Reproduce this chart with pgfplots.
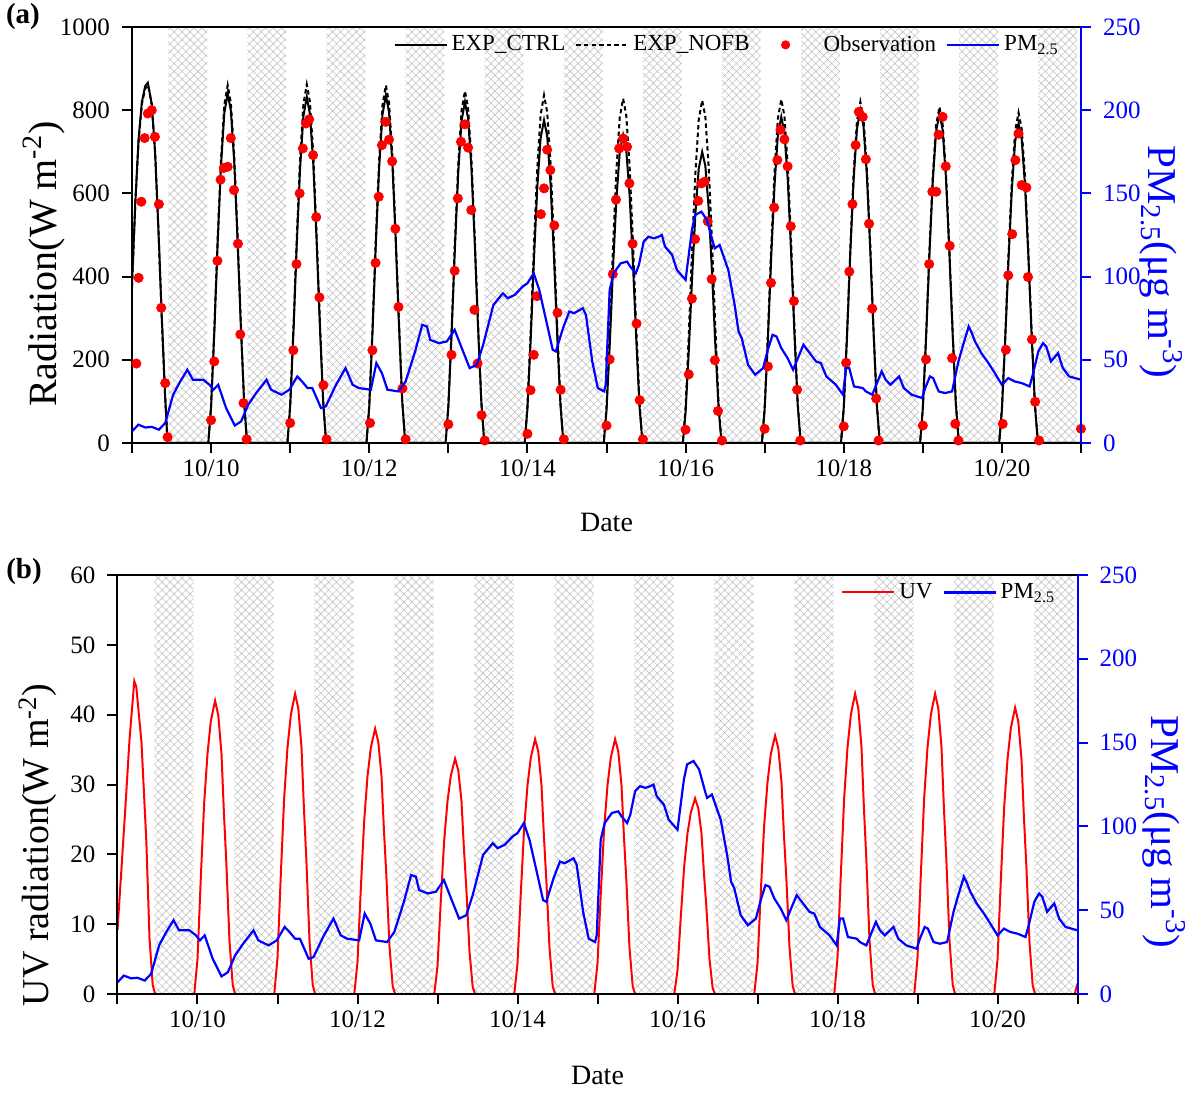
\documentclass[border=0pt]{standalone}
\usepackage{pgfplots}
\pgfplotsset{compat=1.18}
\usepackage{pgfplotstable}
\usepackage{fontspec}
\setmainfont{Liberation Serif}
\usetikzlibrary{patterns.meta}

\pgfplotstableread{
x y
9.00 7
9.08 11
9.17 9.3
9.25 9.7
9.34 8
9.42 12
9.52 29
9.61 37
9.70 44
9.77 38
9.90 38
9.98 35
10.03 32
10.09 35
10.19 21
10.30 10.5
10.38 13
10.47 23
10.57 30
10.70 38
10.76 32
10.89 29
10.99 32
11.09 40
11.15 37
11.22 33
11.28 33
11.39 21
11.45 22
11.58 35
11.70 45
11.79 35
11.87 33
12.02 32
12.09 48
12.16 42
12.23 32
12.37 31
12.46 37
12.58 55
12.67 71
12.73 70
12.77 62
12.88 60
12.98 61
13.08 68
13.17 57
13.27 45
13.36 47
13.44 59
13.57 83
13.69 90
13.75 87
13.84 89
13.94 94
14.00 96
14.08 102
14.15 92
14.24 73
14.32 56
14.36 55
14.45 69
14.53 79
14.59 78
14.70 81
14.74 77
14.82 49
14.89 33
14.97 31
14.99 35
15.04 92
15.09 102
15.18 108
15.26 109
15.30 106
15.37 102
15.41 107
15.47 121
15.53 124
15.60 123
15.66 124
15.70 125
15.74 118
15.83 113
15.89 104
16.00 98
16.08 128
16.12 137
16.20 139
16.27 134
16.35 120
16.37 117
16.43 119
16.54 104
16.62 83
16.67 67
16.71 63
16.79 47
16.88 41
16.98 45
17.04 56
17.10 65
17.15 64
17.21 57
17.29 51
17.36 44
17.42 51
17.49 59
17.57 54
17.65 49
17.71 48
17.78 40
17.90 35
17.99 29
18.03 45
18.07 45
18.13 34
18.24 33
18.28 31
18.36 29
18.48 43
18.53 38
18.59 35
18.70 40
18.76 33
18.86 29
18.99 27
19.03 33
19.09 40
19.13 39
19.20 31
19.28 30
19.37 31
19.45 49
19.51 59
19.58 70
19.62 66
19.66 61
19.74 54
19.83 48
19.91 42
20.00 35
20.08 39
20.16 37
20.25 36
20.35 34
20.39 41
20.46 55
20.52 60
20.56 58
20.62 49
20.71 54
20.77 45
20.85 40
21.00 38
}\pmtab

\pgfplotstableread{
x y
9.000 380
9.042 580
9.083 730
9.125 820
9.167 858
9.200 866
9.250 815
9.292 700
9.333 520
9.375 310
9.417 120
9.450 0
9.965 0
10.000 88
10.042 272
10.083 480
10.125 664
10.167 793
10.210 840
10.250 799
10.292 677
10.333 496
10.375 288
10.417 101
10.455 0
10.965 0
11.000 87
11.042 270
11.083 475
11.125 658
11.167 785
11.210 832
11.250 791
11.292 671
11.333 492
11.375 285
11.417 100
11.455 0
11.965 0
12.000 88
12.042 271
12.083 477
12.125 661
12.167 789
12.210 836
12.250 795
12.292 674
12.333 494
12.375 287
12.417 100
12.455 0
12.965 0
13.000 86
13.042 266
13.083 468
13.125 649
13.167 774
13.210 820
13.250 780
13.292 661
13.333 485
13.375 281
13.417 98
13.455 0
13.965 0
14.000 81
14.042 251
14.083 443
14.125 614
14.167 733
14.210 776
14.250 738
14.292 625
14.333 459
14.375 266
14.417 93
14.455 0
14.965 0
15.000 78
15.042 240
15.083 423
15.125 585
15.167 699
15.210 740
15.250 704
15.292 596
15.333 437
15.375 254
15.417 89
15.455 0
15.965 0
16.000 74
16.042 227
16.083 400
16.125 554
16.167 661
16.210 700
16.250 666
16.292 564
16.333 414
16.375 240
16.417 84
16.455 0
16.965 0
17.000 82
17.042 254
17.083 448
17.125 620
17.167 740
17.210 784
17.250 746
17.292 632
17.333 463
17.375 269
17.417 94
17.455 0
17.965 0
18.000 84
18.042 259
18.083 457
18.125 633
18.167 755
18.210 800
18.250 761
18.292 645
18.333 473
18.375 274
18.417 96
18.455 0
18.965 0
19.000 83
19.042 257
19.083 452
19.125 626
19.167 748
19.210 792
19.250 753
19.292 638
19.333 468
19.375 272
19.417 95
19.455 0
19.965 0
20.000 81
20.042 249
20.083 439
20.125 607
20.167 725
20.210 768
20.250 730
20.292 619
20.333 454
20.375 263
20.417 92
20.455 0
21.000 0
}\ctrltab

\pgfplotstableread{
x y
9.000 375
9.042 575
9.083 725
9.125 815
9.167 852
9.205 860
9.250 812
9.292 697
9.333 517
9.375 306
9.417 118
9.450 0
9.965 0
10.000 90
10.042 279
10.083 491
10.125 680
10.167 812
10.210 860
10.250 818
10.292 693
10.333 508
10.375 295
10.417 103
10.455 0
10.965 0
11.000 91
11.042 279
11.083 492
11.125 682
11.167 814
11.210 862
11.250 820
11.292 695
11.333 509
11.375 296
11.417 103
11.455 0
11.965 0
12.000 90
12.042 279
12.083 491
12.125 680
12.167 812
12.210 860
12.250 818
12.292 693
12.333 508
12.375 295
12.417 103
12.455 0
12.965 0
13.000 89
13.042 274
13.083 483
13.125 669
13.167 799
13.210 846
13.250 805
13.292 682
13.333 500
13.375 290
13.417 102
13.455 0
13.965 0
14.000 88
14.042 271
14.083 477
14.125 661
14.167 789
14.210 836
14.250 795
14.292 674
14.333 494
14.375 287
14.417 100
14.455 0
14.965 0
15.000 87
15.042 268
15.083 473
15.125 655
15.167 782
15.210 828
15.250 787
15.292 667
15.333 489
15.375 284
15.417 99
15.455 0
15.965 0
16.000 87
16.042 267
16.083 471
16.125 652
16.167 778
16.210 824
16.250 784
16.292 664
16.333 487
16.375 283
16.417 99
16.455 0
16.965 0
17.000 87
17.042 268
17.083 472
17.125 653
17.167 780
17.210 826
17.250 786
17.292 666
17.333 488
17.375 283
17.417 99
17.455 0
17.965 0
18.000 86
18.042 266
18.083 468
18.125 649
18.167 774
18.210 820
18.250 780
18.292 661
18.333 485
18.375 281
18.417 98
18.455 0
18.965 0
19.000 85
19.042 262
19.083 461
19.125 639
19.167 763
19.210 808
19.250 768
19.292 651
19.333 478
19.375 277
19.417 97
19.455 0
19.965 0
20.000 83
20.042 257
20.083 453
20.125 628
20.167 750
20.210 794
20.250 755
20.292 640
20.333 469
20.375 272
20.417 95
20.455 0
21.000 0
}\nofbtab

\pgfplotstableread{
x y
9.055 191
9.084 397
9.118 580
9.160 733
9.200 792
9.250 800
9.290 736
9.340 574
9.370 325
9.420 144
9.450 14
10.000 55
10.040 196
10.080 438
10.120 633
10.160 661
10.210 664
10.250 733
10.290 608
10.340 479
10.370 261
10.410 96
10.450 9
11.000 48
11.040 223
11.080 430
11.120 600
11.160 708
11.200 768
11.240 778
11.290 692
11.330 543
11.370 350
11.420 139
11.460 9
12.010 48
12.040 223
12.080 433
12.120 592
12.160 716
12.210 772
12.250 729
12.290 677
12.330 515
12.370 327
12.420 131
12.460 9
13.000 45
13.040 212
13.080 414
13.120 588
13.160 724
13.210 766
13.250 710
13.290 560
13.330 320
13.370 191
13.420 67
13.460 6
14.000 22
14.040 127
14.080 212
14.120 353
14.170 550
14.210 612
14.250 705
14.290 656
14.340 523
14.380 313
14.420 128
14.460 9
15.000 42
15.040 201
15.080 406
15.120 585
15.160 708
15.210 732
15.260 712
15.290 624
15.330 479
15.380 287
15.420 103
15.460 9
16.000 32
16.040 165
16.080 347
16.120 490
16.160 582
16.200 624
16.240 628
16.280 533
16.330 394
16.370 199
16.410 77
16.460 6
17.000 34
17.040 184
17.080 385
17.120 566
17.160 680
17.200 753
17.250 730
17.290 665
17.330 521
17.370 341
17.410 128
17.450 6
18.000 40
18.030 193
18.070 412
18.110 574
18.150 716
18.190 796
18.240 784
18.280 682
18.320 527
18.360 323
18.410 107
18.440 6
19.000 42
19.040 201
19.080 430
19.120 604
19.170 604
19.200 741
19.250 784
19.290 665
19.340 474
19.370 204
19.410 46
19.450 6
20.010 46
20.050 224
20.080 403
20.130 502
20.170 680
20.210 744
20.250 620
20.310 614
20.330 399
20.380 249
20.420 99
20.470 6
21.000 34
}\obstab

\pgfplotstableread{
x y
9.000 9.2
9.050 18
9.100 27
9.150 36.4
9.210 44.8
9.235 44
9.300 36
9.330 29
9.360 22
9.400 8
9.440 1.3
9.470 0
9.960 0
10.000 5.0
10.042 16.8
10.083 27.3
10.125 34.4
10.167 39.1
10.220 42
10.260 39.9
10.300 34.4
10.330 26.0
10.360 18.9
10.400 7.6
10.440 1.3
10.470 0
10.960 0
11.000 5.2
11.042 17.2
11.083 28.0
11.125 35.3
11.167 40.0
11.220 43
11.260 40.9
11.300 35.3
11.330 26.7
11.360 19.4
11.400 7.7
11.440 1.3
11.470 0
11.960 0
12.000 4.6
12.042 15.2
12.083 24.7
12.125 31.2
12.167 35.3
12.220 38
12.260 36.1
12.300 31.2
12.330 23.6
12.360 17.1
12.400 6.8
12.440 1.1
12.470 0
12.960 0
13.000 4.0
13.042 13.5
13.083 21.9
13.125 27.6
13.167 31.3
13.220 33.7
13.260 32.0
13.300 27.6
13.330 20.9
13.360 15.2
13.400 6.1
13.440 1.0
13.470 0
13.960 0
14.000 4.4
14.042 14.6
14.083 23.7
14.125 29.9
14.167 33.9
14.220 36.5
14.260 34.7
14.300 29.9
14.330 22.6
14.360 16.4
14.400 6.6
14.440 1.1
14.470 0
14.960 0
15.000 4.4
15.042 14.6
15.083 23.7
15.125 29.9
15.167 33.9
15.220 36.5
15.260 34.7
15.300 29.9
15.330 22.6
15.360 16.4
15.400 6.6
15.440 1.1
15.470 0
15.960 0
16.000 3.4
16.042 11.2
16.083 18.2
16.125 23.0
16.167 26.0
16.220 28
16.260 26.6
16.300 23.0
16.330 17.4
16.360 12.6
16.400 5.0
16.440 0.8
16.470 0
16.960 0
17.000 4.4
17.042 14.8
17.083 24.1
17.125 30.3
17.167 34.4
17.220 37
17.260 35.2
17.300 30.3
17.330 22.9
17.360 16.7
17.400 6.7
17.440 1.1
17.470 0
17.960 0
18.000 5.2
18.042 17.2
18.083 28.0
18.125 35.3
18.167 40.0
18.220 43
18.260 40.9
18.300 35.3
18.330 26.7
18.360 19.4
18.400 7.7
18.440 1.3
18.470 0
18.960 0
19.000 5.2
19.042 17.2
19.083 28.0
19.125 35.3
19.167 40.0
19.220 43
19.260 40.9
19.300 35.3
19.330 26.7
19.360 19.4
19.400 7.7
19.440 1.3
19.470 0
19.960 0
20.000 4.9
20.042 16.4
20.083 26.7
20.125 33.6
20.167 38.1
20.220 41
20.260 39.0
20.300 33.6
20.330 25.4
20.360 18.5
20.400 7.4
20.440 1.2
20.470 0
20.965 0
21.000 1.5
}\uvtab

\pgfplotsset{
  base/.style={
    scale only axis, xmin=9, xmax=21,
    tick align=outside, major tick length=5pt,
    axis line style={line width=1pt},
    every tick/.style={line width=1pt},
    tick label style={font=\fontsize{12.5}{14}\selectfont},
    /pgf/number format/assume math mode=true,
    /pgf/number format/1000 sep={},
  },
  lefty/.style={yticklabel style={xshift=-2.5pt}},
  righty/.style={yticklabel style={xshift=2.5pt}},
  hatch/.style={draw=none, pattern={Hatch[angle=45,distance=2.8pt,line width=0.3pt]},
    pattern color=black!24, forget plot},
  legend image code/.code={\draw[mark repeat=2,mark phase=2,#1] plot coordinates {(0pt,0pt) (13pt,0pt) (26pt,0pt)};},
}

\begin{document}
\begin{tikzpicture}
\useasboundingbox (0,0) rectangle (600pt,546.5pt);
\node[font=\bfseries\fontsize{14.5}{16}\selectfont] at (11.5pt,538pt) {(a)};
\node[font=\bfseries\fontsize{14.5}{16}\selectfont] at (12pt,260.5pt) {(b)};

% ---------- panel (a) left
\begin{axis}[base, lefty, at={(66pt,325pt)}, anchor=south west, width=474.5pt, height=208pt,
  ymin=0, ymax=1000, ytick={0,200,...,1000},
  xtick={9,...,21}, xticklabels={{},10/10,{},10/12,{},10/14,{},10/16,{},10/18,{},10/20,{}},
  xtick pos=left, ytick pos=left, axis on top,
  xlabel={Date}, xlabel style={font=\fontsize{14}{16}\selectfont, at={(axis description cs:0.5,0)}, anchor=center, yshift=-39.5pt},
  ylabel={Radiation(W m\textsuperscript{-2})},
  ylabel style={font=\fontsize{20}{22}\selectfont, at={(axis description cs:-0.093,0.43)}, anchor=center}]
\addplot[hatch] coordinates {(9.46,0)(9.46,1000)(9.95,1000)(9.95,0)(10.46,0)(10.46,1000)(10.95,1000)(10.95,0)(11.46,0)(11.46,1000)(11.95,1000)(11.95,0)(12.46,0)(12.46,1000)(12.95,1000)(12.95,0)(13.46,0)(13.46,1000)(13.95,1000)(13.95,0)(14.46,0)(14.46,1000)(14.95,1000)(14.95,0)(15.46,0)(15.46,1000)(15.95,1000)(15.95,0)(16.46,0)(16.46,1000)(16.95,1000)(16.95,0)(17.46,0)(17.46,1000)(17.95,1000)(17.95,0)(18.46,0)(18.46,1000)(18.95,1000)(18.95,0)(19.46,0)(19.46,1000)(19.95,1000)(19.95,0)(20.46,0)(20.46,1000)(20.95,1000)(20.95,0)} \closedcycle;
\addplot[black, line width=1pt] table {\ctrltab};
\addplot[black, line width=1pt, dash pattern=on 2.2pt off 1.6pt] table {\nofbtab};
\addplot[only marks, mark=*, mark size=2.3pt, red, mark options={draw=red, fill=red}] table {\obstab};
\end{axis}

% ---------- panel (a) right
\begin{axis}[base, righty, at={(66pt,325pt)}, anchor=south west, width=474.5pt, height=208pt,
  ymin=0, ymax=250, ytick={0,50,...,250},
  axis y line*=right, axis x line=none,
  y axis line style={blue, line width=1pt}, ytick style={blue, line width=1pt}, yticklabel style={blue},
  ylabel={PM\textsubscript{2.5}(μg m\textsuperscript{-3})},
  ylabel style={blue, font=\fontsize{20.5}{22}\selectfont, at={(axis description cs:1.084,0.435)}, anchor=center, rotate=180},
  legend columns=4,
  legend style={draw=none, fill=none, at={(axis description cs:1,1)}, anchor=north east, xshift=-8pt, yshift=-1pt,
    font=\fontsize{11.5}{13}\selectfont, inner sep=1pt, /tikz/every even column/.append style={column sep=3pt}}]
\addlegendimage{black, line width=1pt}\addlegendentry{EXP\_CTRL}
\addlegendimage{black, line width=1pt, dash pattern=on 2.2pt off 1.6pt}\addlegendentry{EXP\_NOFB}
\addlegendimage{draw=none, legend image code/.code={\path[draw=none] (0pt,0pt) -- (30pt,0pt); \fill[red, draw=none] (13pt,0pt) circle (2.3pt);}}\addlegendentry{Observation}
\addplot[blue, line width=1.1pt] table {\pmtab};
\addlegendentry{PM\textsubscript{2.5}}
\end{axis}

% ---------- panel (b) left
\begin{axis}[base, lefty, at={(58.75pt,49.5pt)}, anchor=south west, width=480pt, height=209.5pt,
  ymin=0, ymax=60, ytick={0,10,...,60},
  xtick={9,...,21}, xticklabels={{},10/10,{},10/12,{},10/14,{},10/16,{},10/18,{},10/20,{}},
  xtick pos=left, ytick pos=left, axis on top,
  xlabel={Date}, xlabel style={font=\fontsize{14}{16}\selectfont, at={(axis description cs:0.5,0)}, anchor=center, yshift=-40.5pt},
  ylabel={UV radiation(W m\textsuperscript{-2})},
  ylabel style={font=\fontsize{19}{21}\selectfont, at={(axis description cs:-0.083,0.356)}, anchor=center}]
\addplot[hatch] coordinates {(9.46,0)(9.46,60)(9.95,60)(9.95,0)(10.46,0)(10.46,60)(10.95,60)(10.95,0)(11.46,0)(11.46,60)(11.95,60)(11.95,0)(12.46,0)(12.46,60)(12.95,60)(12.95,0)(13.46,0)(13.46,60)(13.95,60)(13.95,0)(14.46,0)(14.46,60)(14.95,60)(14.95,0)(15.46,0)(15.46,60)(15.95,60)(15.95,0)(16.46,0)(16.46,60)(16.95,60)(16.95,0)(17.46,0)(17.46,60)(17.95,60)(17.95,0)(18.46,0)(18.46,60)(18.95,60)(18.95,0)(19.46,0)(19.46,60)(19.95,60)(19.95,0)(20.46,0)(20.46,60)(20.95,60)(20.95,0)} \closedcycle;
\addplot[red, line width=1pt] table {\uvtab};
\end{axis}

% ---------- panel (b) right
\begin{axis}[base, righty, at={(58.75pt,49.5pt)}, anchor=south west, width=480pt, height=209.5pt,
  ymin=0, ymax=250, ytick={0,50,...,250},
  axis y line*=right, axis x line=none,
  y axis line style={blue, line width=1pt}, ytick style={blue, line width=1pt}, yticklabel style={blue},
  ylabel={PM\textsubscript{2.5}(μg m\textsuperscript{-3})},
  ylabel style={blue, font=\fontsize{20.5}{22}\selectfont, at={(axis description cs:1.09,0.387)}, anchor=center, rotate=180},
  legend columns=2,
  legend style={draw=none, fill=none, at={(axis description cs:1,1)}, anchor=north east, xshift=-8pt, yshift=-1pt,
    font=\fontsize{11.5}{13}\selectfont, inner sep=1pt, /tikz/every even column/.append style={column sep=3pt}}]
\addlegendimage{red, line width=1pt}\addlegendentry{UV}
\addplot[blue, line width=1.1pt] table {\pmtab};
\addlegendentry{PM\textsubscript{2.5}}
\end{axis}
\end{tikzpicture}
\end{document}
